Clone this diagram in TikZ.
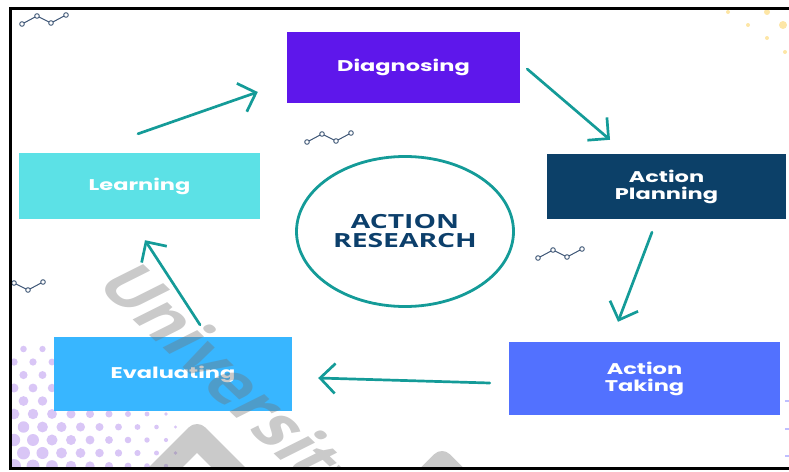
\documentclass[tikz,border=0pt]{standalone}
\usepackage{fontspec}
\usepackage{graphicx}
\setmainfont{Poppins}
\newfontfamily\hubfont{Open Sans}
\usetikzlibrary{arrows.meta,calc,shapes.geometric}

\definecolor{diagc}{HTML}{5E17EB}
\definecolor{planc}{HTML}{0C4068}
\definecolor{takec}{HTML}{5271FF}
\definecolor{evalc}{HTML}{38B6FF}
\definecolor{learnc}{HTML}{5CE1E6}
\definecolor{tealc}{HTML}{149B98}
\definecolor{hubc}{HTML}{0C3F6B}
\definecolor{sparkc}{HTML}{3E5676}
\definecolor{dotc}{HTML}{D9C6F6}
\definecolor{sunc}{HTML}{FDE6A6}

% lettering is stretched sideways like the rest of the artwork
\newcommand{\wide}[1]{\scalebox{1.45}[1]{#1}}

\tikzset{
  stage/.style={inner sep=0pt, text=white, align=center, font=\bfseries\fontsize{15.5}{17}\selectfont},
  flow/.style={draw=tealc, line width=2.7pt, line cap=round, line join=round, -{Straight Barb[length=15pt,width=30pt]}},
  spark/.pic={
    \draw[sparkc, line width=1pt] (0,0) -- (15,-8) -- (29,-1) -- (44,-9);
    \foreach \q in {(0,0),(15,-8),(29,-1),(44,-9)}
      \filldraw[draw=sparkc, fill=white, line width=0.9pt] \q circle[radius=2.3];
  }
}

\begin{document}
\begin{tikzpicture}[x=1pt,y=-1pt]
\useasboundingbox (0,0) rectangle (789,471);

% background decoration
\begin{scope}
\clip (11.5,10) rectangle (789,466.5);
\foreach \i in {0,...,8}
  \foreach \j in {0,...,9} {
    \pgfmathsetmacro{\dx}{14+19*\i+9.5*mod(\j,2)}
    \pgfmathsetmacro{\dy}{466-13*\j}
    \pgfmathsetmacro{\dr}{7.2-0.032*veclen(\dx-10,471-\dy)}
    \ifdim\dr pt>1.6pt \fill[dotc] (\dx,\dy) circle[radius=\dr]; \fi
  }
\foreach \px/\py/\r in {728/12/2, 767/12/3, 748/25/2, 783/25/4, 767/38/2, 785/52/2}
  \fill[sunc] (\px,\py) circle[radius=\r];
\foreach \yy in {401,429,456}
  \draw[blue!25, line width=1.2pt] (785,\yy) -- (790,\yy);
\pic at (22,24) {spark};
\pic at (307,142) {spark};
\pic at (538,258) {spark};
\pic at (-1,291) {spark};
\end{scope}

% cycle stages
\node[stage, fill=diagc, minimum width=233, minimum height=71] (dg) at (403.5,67.5) {\wide{Diagnosing}};
\node[stage, fill=planc, minimum width=239, minimum height=65] (ap) at (666.5,186.5) {\wide{Action}\\\wide{Planning}};
\node[stage, fill=takec, minimum width=271, minimum height=73] (at) at (644.5,378.5) {\wide{Action}\\\wide{Taking}};
\node[stage, fill=evalc, minimum width=238, minimum height=74] (ev) at (173,374) {\wide{Evaluating}};
\node[stage, fill=learnc, minimum width=241, minimum height=66] (lr) at (139.5,186) {\wide{Learning}};

\node[draw=tealc, line width=2.8pt, ellipse, inner sep=0pt, minimum width=217, minimum height=150,
  text=hubc, align=center, font=\hubfont\bfseries\fontsize{19.5}{19}\selectfont] (ar) at (405,231.5)
  {\wide{ACTION}\\\wide{RESEARCH}};

\draw[flow] ($(lr.north)+(-1.5,-19)$) -- ($(dg.west)+(-29,24.5)$);
\draw[flow] ($(dg.east)+(7,1.5)$) -- ($(ap.north)+(-56.5,-14)$);
\draw[flow] ($(ap.south)+(-14.5,13)$) -- ($(at.north)+(-26.5,-20)$);
\draw[flow] ($(at.west)+(-19,4.5)$) -- ($(ev.east)+(26,4)$);
\draw[flow] ($(ev.north)+(27,-12)$) -- ($(lr.south)+(5.5,21)$);

% watermark over everything
\begin{scope}
\clip (11.5,10) rectangle (789,466.5);
\draw[black!55, opacity=0.38, line width=24pt, line join=round] (150,483) -- (197,436) -- (244,483);
\draw[black!55, opacity=0.38, line width=22pt, line join=round] (420,484) -- (442,462) -- (464,484);
\begin{scope}[xscale=1.45]
\node[transform shape, rotate=-54, anchor=base west, inner sep=0pt, text=black!55, text opacity=0.38,
  font=\hubfont\bfseries\fontsize{54}{54}\selectfont] (wm) at (65,283) {University};
\end{scope}
\end{scope}

\draw[line width=3pt] (10,8.5) rectangle (800,468);
\end{tikzpicture}
\end{document}
